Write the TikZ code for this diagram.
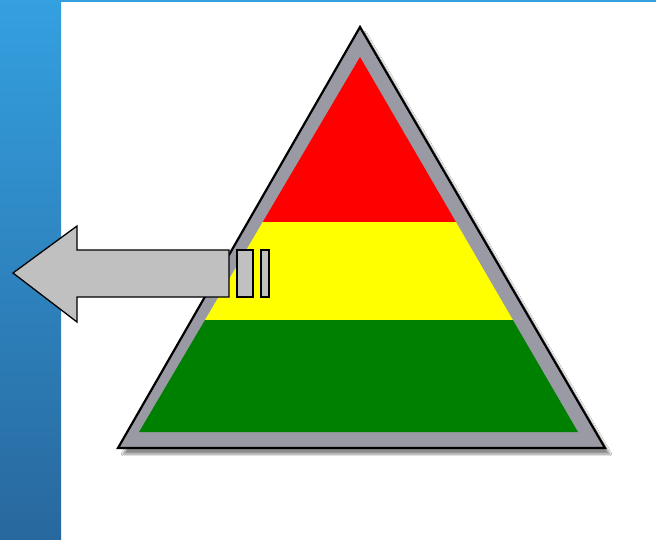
\documentclass[tikz,border=0pt]{standalone}
\usepackage{tikz}
\usetikzlibrary{shadows.blur}

\definecolor{barTop}{RGB}{52,160,224}
\definecolor{barBottom}{RGB}{40,104,158}
\definecolor{rimGray}{RGB}{154,154,164}
\definecolor{arrowGray}{RGB}{192,192,192}
\definecolor{bandRed}{RGB}{255,0,0}
\definecolor{bandYellow}{RGB}{255,255,0}
\definecolor{bandGreen}{RGB}{0,128,0}

\begin{document}
\begin{tikzpicture}[
    x=1pt, y=-1pt,
    rim/.style={draw=black, line width=2.2pt, fill=rimGray, line join=miter,
        blur shadow={shadow xshift=5pt, shadow yshift=-6pt, shadow blur steps=8, shadow opacity=45}},
    block/.style={draw=black, line width=1.3pt, fill=arrowGray}
]
\useasboundingbox (0,0) rectangle (656,539);
\fill[white] (0,0) rectangle (656,539);

% side bar and top rule
\shade[top color=barTop, bottom color=barBottom] (0,0) rectangle (61,539);
\fill[barTop] (61,0) rectangle (656,2);

% pyramid
\coordinate (apex) at (360,27);
\coordinate (baseL) at (118,448);
\coordinate (baseR) at (605,448);
\draw[rim] (apex) -- (baseR) -- (baseL) -- cycle;

\coordinate (inApex) at (360,57);
\coordinate (inL) at (139,432);
\coordinate (inR) at (578,432);
\begin{scope}
  \clip (inApex) -- (inR) -- (inL) -- cycle;
  \fill[bandRed] (100,40) rectangle (620,222);
  \fill[bandYellow] (100,222) rectangle (620,320);
  \fill[bandGreen] (100,320) rectangle (620,440);
\end{scope}

% arrow
\draw[block] (13,273) -- (77,226) -- (77,250) -- (229,250) -- (229,297)
    -- (77,297) -- (77,322) -- cycle;
\draw[block] (237,250) rectangle (253,297);
\draw[block] (261,250) rectangle (269,297);
\end{tikzpicture}
\end{document}
